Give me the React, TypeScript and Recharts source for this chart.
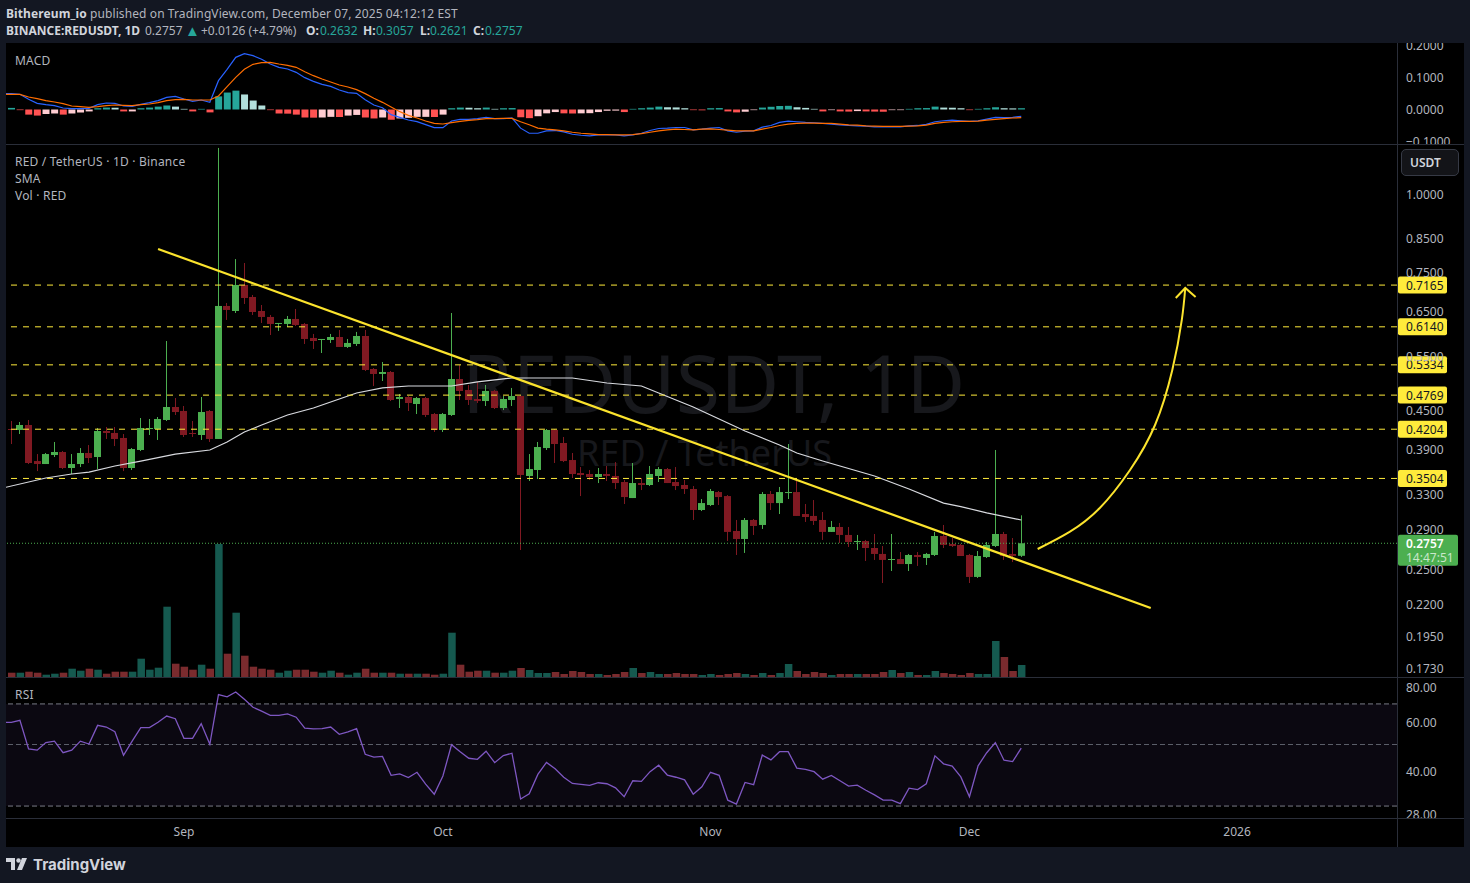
import { Bar, Cell, ComposedChart, Line, ReferenceArea, ReferenceLine, XAxis, YAxis } from "recharts"

const opens = [
  0.4207, 0.4192, 0.427, 0.3737, 0.3696, 0.3821, 0.3864, 0.3642, 0.3696, 0.385,
  0.3793, 0.4176, 0.4146, 0.407, 0.3642, 0.3893, 0.4207, 0.4207, 0.435, 0.4564,
  0.4497, 0.4146, 0.4115, 0.4497, 0.4055, 0.6632, 0.651, 0.7168, 0.6856, 0.651,
  0.6368, 0.6205, 0.6205, 0.6321, 0.6205, 0.5892, 0.5848, 0.5848, 0.5913, 0.5699,
  0.5762, 0.5935, 0.5253, 0.5157, 0.5195, 0.4701, 0.4736, 0.4615, 0.4718, 0.4447,
  0.4192, 0.4431, 0.5062, 0.4861, 0.4701, 0.4666, 0.4843, 0.4547, 0.4684, 0.4753,
  0.3536, 0.3615, 0.3921, 0.4192, 0.3995, 0.3751, 0.3575, 0.3562, 0.3523, 0.3562,
  0.3536, 0.3458, 0.3259, 0.3445, 0.342, 0.3536, 0.3628, 0.3458, 0.342, 0.337,
  0.3118, 0.3176, 0.3332, 0.3283, 0.2885, 0.2801, 0.3005, 0.295, 0.3308, 0.3199,
  0.332, 0.3332, 0.3072, 0.305, 0.3005, 0.2875, 0.2928, 0.2843, 0.277, 0.278,
  0.2709, 0.265, 0.2592, 0.2601, 0.2553, 0.264, 0.2611, 0.264, 0.2832, 0.275,
  0.274, 0.264, 0.2434, 0.262, 0.2729, 0.2853, 0.265, 0.2632,
]
const highs = [
  0.4334, 0.4318, 0.435, 0.3835, 0.385, 0.401, 0.3878, 0.3835, 0.3921, 0.3965,
  0.4223, 0.4239, 0.4239, 0.413, 0.3921, 0.4382, 0.4366, 0.4398, 0.5826, 0.4718,
  0.4581, 0.4334, 0.4736, 0.4513, 1.19, 0.6706, 0.7889, 0.7775, 0.6907, 0.6656,
  0.6415, 0.6228, 0.6391, 0.6559, 0.6228, 0.598, 0.587, 0.598, 0.6069, 0.587,
  0.6025, 0.6069, 0.5272, 0.5391, 0.5214, 0.4789, 0.4753, 0.4736, 0.4736, 0.4464,
  0.4464, 0.6462, 0.5331, 0.4951, 0.5007, 0.4951, 0.4861, 0.4753, 0.4897, 0.4771,
  0.3835, 0.401, 0.4207, 0.4207, 0.4085, 0.385, 0.3655, 0.3615, 0.3642, 0.3669,
  0.3723, 0.3484, 0.371, 0.351, 0.3669, 0.3655, 0.3642, 0.3655, 0.3484, 0.3407,
  0.3247, 0.337, 0.3345, 0.3295, 0.3005, 0.3027, 0.3016, 0.3332, 0.3345, 0.3395,
  0.398, 0.3484, 0.3188, 0.3235, 0.3095, 0.2994, 0.2972, 0.2928, 0.2843, 0.2791,
  0.2853, 0.2729, 0.2853, 0.2669, 0.265, 0.2669, 0.266, 0.2875, 0.295, 0.2811,
  0.275, 0.265, 0.2679, 0.277, 0.3893, 0.2875, 0.2811, 0.3057,
]
const lows = [
  0.398, 0.413, 0.3696, 0.3601, 0.3696, 0.3793, 0.3628, 0.3562, 0.3655, 0.371,
  0.3628, 0.4055, 0.395, 0.3601, 0.3615, 0.3878, 0.4115, 0.404, 0.4334, 0.4431,
  0.4085, 0.4085, 0.404, 0.401, 0.4055, 0.6298, 0.6462, 0.6681, 0.6415, 0.6228,
  0.5957, 0.6047, 0.6137, 0.6159, 0.5762, 0.5657, 0.5573, 0.5784, 0.5699, 0.5678,
  0.572, 0.5214, 0.4933, 0.5025, 0.4666, 0.4547, 0.4497, 0.4447, 0.4398, 0.4161,
  0.4161, 0.4415, 0.4684, 0.4598, 0.4632, 0.4581, 0.453, 0.4513, 0.4581, 0.2689,
  0.3471, 0.3497, 0.3893, 0.371, 0.3723, 0.351, 0.3283, 0.3484, 0.3445, 0.3471,
  0.337, 0.3188, 0.3259, 0.3357, 0.3407, 0.3458, 0.3445, 0.3357, 0.3308, 0.3005,
  0.3106, 0.3164, 0.3176, 0.278, 0.264, 0.266, 0.2843, 0.2907, 0.3118, 0.3072,
  0.3247, 0.305, 0.2983, 0.295, 0.2791, 0.2875, 0.276, 0.2719, 0.2689, 0.2582,
  0.2592, 0.238, 0.2488, 0.2553, 0.2488, 0.2535, 0.2544, 0.263, 0.2709, 0.2719,
  0.263, 0.238, 0.2425, 0.2611, 0.2719, 0.2592, 0.2572, 0.2621,
]
const closes = [
  0.4192, 0.427, 0.371, 0.3696, 0.3835, 0.3864, 0.3642, 0.3696, 0.385, 0.3779,
  0.4176, 0.4146, 0.4055, 0.3642, 0.3907, 0.4223, 0.4223, 0.4366, 0.4564, 0.448,
  0.4115, 0.413, 0.448, 0.4055, 0.6632, 0.6535, 0.7168, 0.6831, 0.6486, 0.6368,
  0.6205, 0.6228, 0.6321, 0.6182, 0.587, 0.5826, 0.587, 0.5913, 0.5699, 0.5784,
  0.5935, 0.5234, 0.5157, 0.5195, 0.4684, 0.4736, 0.4632, 0.4718, 0.4431, 0.4192,
  0.4447, 0.5062, 0.4843, 0.4684, 0.4666, 0.4843, 0.4547, 0.4701, 0.4753, 0.3549,
  0.3628, 0.3936, 0.4192, 0.398, 0.3737, 0.3562, 0.3549, 0.3523, 0.3562, 0.3536,
  0.3445, 0.3271, 0.3445, 0.342, 0.3562, 0.3628, 0.3445, 0.3407, 0.337, 0.3118,
  0.3199, 0.3345, 0.3271, 0.2875, 0.2801, 0.3005, 0.2939, 0.3308, 0.3199, 0.3332,
  0.3332, 0.305, 0.3038, 0.2994, 0.2875, 0.2928, 0.2843, 0.277, 0.278, 0.2709,
  0.265, 0.2592, 0.2601, 0.2553, 0.264, 0.262, 0.265, 0.2832, 0.274, 0.2729,
  0.263, 0.2434, 0.263, 0.274, 0.2853, 0.263, 0.2631, 0.2757,
]
const volumes = [
  4.3, 4.3, 5.3, 4.3, 2.3, 3.3, 4.3, 8.3, 6.3, 8.3, 7.3, 3.3, 5.3, 5.3, 5.3, 18.3, 7.3, 9.3, 70.3, 13.3,
  10.3, 7.3, 12.3, 8.3, 133, 23.3, 64.3, 21.3, 10.3, 8.3, 7.3, 4.3, 6.3, 7.3, 7.3, 5.3, 4.3, 6.3, 4.3, 2.3,
  4.3, 8.3, 4.3, 4.3, 4.3, 3.3, 3.3, 3.3, 3.3, 2.3, 3.3, 44.3, 12.3, 5.3, 6.3, 6.3, 4.3, 4.3, 6.3, 9,
  7, 4, 4, 5, 3, 6, 5, 3, 3, 2, 3, 5, 9, 4, 5, 3, 3, 4, 3, 3,
  2, 3, 2, 3, 4, 3, 2, 4, 2, 4, 13, 6, 3, 5, 4, 2, 3, 3, 3, 3,
  3, 5, 7, 4, 5, 2, 2, 6, 4, 3, 2, 4, 3, 3, 36, 20, 6, 12,
]
const rsiValues = [
  60.1, 61.1, 48.2, 47.7, 50.8, 51.4, 46.7, 47.7, 51.4, 50.2, 58.6, 57.8, 55.6, 45.7, 51.4, 57.5, 57.5, 60.1, 63.3, 61.9,
  52.6, 52.6, 59.4, 50.1, 75.6, 74.2, 77.3, 72.8, 68.1, 65.9, 63.7, 63.7, 64.4, 62.7, 57.3, 56.9, 57.0, 57.8, 54.4, 55.5,
  57.0, 46.1, 45.0, 45.3, 38.7, 39.2, 38.0, 39.7, 36.0, 33.1, 38.5, 49.9, 47.1, 44.6, 44.2, 47.3, 43.0, 45.6, 46.5, 31.8,
  33.2, 39.0, 43.1, 40.9, 38.1, 36.2, 35.9, 35.6, 36.4, 36.1, 34.9, 32.4, 37.0, 36.8, 39.9, 42.1, 38.8, 38.1, 37.3, 33.1,
  35.2, 39.7, 38.7, 31.5, 30.5, 36.5, 35.8, 45.8, 44.0, 47.1, 47.1, 41.1, 40.7, 39.9, 37.5, 38.7, 37.0, 35.4, 35.7, 34.2,
  32.9, 31.5, 31.5, 30.6, 34.8, 34.4, 36.1, 45.5, 42.6, 41.8, 38.2, 32.4, 41.9, 46.7, 50.8, 43.9, 43.4, 48.5,
]
const macdValues = [
  0.0495, 0.0474, 0.0318, 0.0193, 0.0151, 0.012, 0.0047, 0.0026, 0.0026, 0.0036,
  0.0151, 0.0203, 0.0193, 0.0109, 0.0099, 0.0161, 0.0214, 0.0276, 0.038, 0.0411,
  0.0328, 0.0255, 0.0297, 0.0224, 0.0901, 0.1255, 0.163, 0.1745, 0.1682, 0.1568,
  0.1422, 0.1318, 0.1266, 0.1161, 0.0995, 0.088, 0.0786, 0.0724, 0.0609, 0.0526,
  0.0505, 0.0307, 0.0141, 0.0057, -0.0161, -0.0245, -0.0328, -0.038, -0.0474, -0.0568,
  -0.0568, -0.0359, -0.0307, -0.0307, -0.0286, -0.0245, -0.0286, -0.0286, -0.0265, -0.0583,
  -0.0742, -0.0742, -0.0668, -0.0657, -0.0699, -0.0773, -0.0805, -0.0826, -0.0794, -0.0794,
  -0.0794, -0.0826, -0.0794, -0.0742, -0.0657, -0.0594, -0.0583, -0.0562, -0.0562, -0.0636,
  -0.0615, -0.0583, -0.0562, -0.0668, -0.071, -0.0678, -0.0668, -0.0551, -0.0499, -0.0404,
  -0.0361, -0.0382, -0.0404, -0.0414, -0.0435, -0.0456, -0.0478, -0.0499, -0.0509, -0.052,
  -0.0541, -0.0541, -0.0541, -0.0541, -0.0509, -0.0499, -0.0467, -0.0382, -0.0351, -0.033,
  -0.0351, -0.0372, -0.0351, -0.0298, -0.0245, -0.0256, -0.0245, -0.0213,
]
const signalValues = [
  0.0474, 0.0474, 0.0391, 0.0339, 0.0276, 0.0234, 0.0182, 0.0109, 0.0089, 0.0068,
  0.0089, 0.012, 0.0141, 0.013, 0.012, 0.0151, 0.0172, 0.0214, 0.0276, 0.0307,
  0.0318, 0.0297, 0.0297, 0.0297, 0.0422, 0.0714, 0.1005, 0.1255, 0.1411, 0.1464,
  0.1474, 0.1422, 0.138, 0.1318, 0.1182, 0.1057, 0.0953, 0.0859, 0.0766, 0.0703,
  0.062, 0.0495, 0.0349, 0.0224, 0.0078, -0.0068, -0.0182, -0.0266, -0.0359, -0.0432,
  -0.0453, -0.0411, -0.037, -0.0339, -0.0318, -0.0286, -0.0286, -0.0276, -0.0276, -0.0382,
  -0.0478, -0.0583, -0.0615, -0.0636, -0.0668, -0.071, -0.0742, -0.0763, -0.0784, -0.0784,
  -0.0794, -0.0794, -0.0784, -0.0752, -0.071, -0.0668, -0.0636, -0.0615, -0.0625, -0.0636,
  -0.0615, -0.0604, -0.0625, -0.0647, -0.0668, -0.0668, -0.0668, -0.0615, -0.0562, -0.0499,
  -0.0456, -0.0435, -0.0425, -0.0425, -0.0435, -0.0435, -0.0456, -0.0478, -0.0488, -0.0509,
  -0.052, -0.053, -0.053, -0.053, -0.052, -0.0509, -0.0488, -0.0435, -0.0404, -0.0382,
  -0.0372, -0.0372, -0.0361, -0.033, -0.0308, -0.0287, -0.0266, -0.0256,
]
const histValues = [
  0.005, -0.002, -0.016, -0.019, -0.014, -0.0125, -0.016, -0.0125, -0.0094, -0.006,
  0.004, 0.006, 0.0055, -0.006, -0.006, 0.004, 0.006, 0.009, 0.0125, 0.009,
  0.002, -0.006, 0.002, -0.009, 0.041, 0.053, 0.059, 0.047, 0.028, 0.0125,
  -0.002, -0.0125, -0.013, -0.016, -0.025, -0.0255, -0.025, -0.023, -0.0235, -0.019,
  -0.017, -0.025, -0.028, -0.025, -0.032, -0.028, -0.026, -0.023, -0.023, -0.0235,
  -0.016, 0.004, 0.006, 0.0055, 0.004, 0.006, 0.002, 0.004, 0.0045, -0.024,
  -0.027, -0.021, -0.012, -0.008, -0.012, -0.0125, -0.012, -0.0115, -0.008, -0.004,
  -0.0035, -0.008, 0.002, 0.004, 0.006, 0.009, 0.007, 0.0065, 0.004, -0.002,
  -0.0025, 0.004, 0.0045, -0.006, -0.009, -0.007, -0.002, 0.006, 0.0085, 0.011,
  0.0115, 0.007, 0.005, 0.002, -0.006, -0.002, -0.006, -0.0065, -0.005, -0.006,
  -0.0065, -0.007, -0.002, -0.002, 0.002, 0.004, 0.0045, 0.009, 0.006, 0.0055,
  0.004, -0.002, 0.002, 0.004, 0.007, 0.004, 0.0035, 0.004,
]

// 50-day SMA, read at the bends of the drawn line
const smaDays = [-1, 4, 7, 9, 12, 15, 19, 23, 25, 27, 29, 32, 35, 38, 40, 43, 46, 51, 54, 58, 65, 69, 73, 75, 79, 85, 89, 91, 94, 100, 104, 108, 110, 113, 117]
const smaPrices = [0.3382, 0.351, 0.3562, 0.3588, 0.3669, 0.3737, 0.3835, 0.3893, 0.401, 0.4161, 0.427, 0.4431, 0.4547, 0.4701, 0.4807, 0.4897, 0.4933, 0.4933, 0.5007, 0.5081, 0.5081, 0.4988, 0.4933, 0.4807, 0.4564, 0.4176, 0.3965, 0.385, 0.3737, 0.3536, 0.337, 0.3199, 0.3158, 0.3084, 0.3005]

const levels = [0.7165, 0.614, 0.5334, 0.4769, 0.4204, 0.3504]
const priceTicks = [1, 0.85, 0.75, 0.65, 0.55, 0.45, 0.39, 0.33, 0.29, 0.25, 0.22, 0.195, 0.173]
const macdTicks = [0.2, 0.1, 0, -0.1]
const rsiTicks = [80, 60, 40, 28]
const monthTicks = [20, 50, 81, 111, 142]
const monthLabels = ["Sep", "Oct", "Nov", "Dec", "2026"]
const lastPrice = 0.2757

// hand drawn bits on the chart
const trendDays = [17, 132]
const trendPrices = [0.8189, 0.217]
const arrowDays = [118.9, 122.6, 126.1, 129.6, 132.5, 134.5, 135.6, 136]
const arrowPrices = [0.2699, 0.2875, 0.3141, 0.3615, 0.427, 0.5234, 0.6298, 0.7089]
const headDays = [134.9, 136, 137.2]
const headPrices = [0.6831, 0.7089, 0.6856]

const xDomain: [number, number] = [-0.614, 160.53]
const GREEN = "#4caf50"
const RED = "#801922"
const TEXT = "#b2b5be"
const LINE = "#2a2e39"
const FONT = "'Noto Sans', sans-serif"

const days = opens.map((_, i) => i)
const rows: any[] = [
  { i: -1, macd: macdValues[0], signal: signalValues[0], rsi: rsiValues[0], sma: smaPrices[0] },
  ...days.map((i) => {
    const s = smaDays.indexOf(i)
    return {
      i,
      open: opens[i],
      high: highs[i],
      low: lows[i],
      close: closes[i],
      volume: volumes[i],
      rsi: rsiValues[i],
      macd: macdValues[i],
      signal: signalValues[i],
      hist: histValues[i],
      sma: s >= 0 ? smaPrices[s] : null,
    }
  }),
]
const arrowRows = arrowDays.map((i, k) => ({ i, y: arrowPrices[k] }))
const headRows = headDays.map((i, k) => ({ i, y: headPrices[k] }))

function histColor(i: number) {
  const v = histValues[i]
  const prev = i > 0 ? histValues[i - 1] : 0
  if (v >= 0) return v > prev ? "#26a69a" : "#b2dfdb"
  return v < prev ? "#ff5252" : "#ffcdd2"
}

function Candle(props: any) {
  const { x, y, width, height, payload } = props
  if (!payload || payload.high == null) return null
  const { open, high, low, close } = payload
  const span = Math.log(high / low)
  const yOf = (v: number) => y + (height * Math.log(high / v)) / span
  const top = yOf(Math.max(open, close))
  const bottom = yOf(Math.min(open, close))
  const cx = x + width / 2
  const fill = close >= open ? GREEN : RED
  return (
    <g fill={fill}>
      <rect x={Math.round(cx - 0.5)} y={y} width={1} height={height} />
      <rect x={Math.round(cx - 3.5)} y={top} width={7} height={Math.max(1, bottom - top)} />
    </g>
  )
}

function PriceTag(props: any) {
  const { viewBox, text } = props
  const right = viewBox.x + viewBox.width
  return (
    <g>
      <rect x={right + 1} y={viewBox.y - 8.5} width={49} height={17} rx={2} fill="#ffeb3b" />
      <text x={right + 9} y={viewBox.y + 4.5} fontSize={12} fontFamily={FONT} fill="#131722">
        {text}
      </text>
    </g>
  )
}

function LastTag(props: any) {
  const { viewBox } = props
  const right = viewBox.x + viewBox.width
  return (
    <g fontSize={12} fontFamily={FONT}>
      <rect x={right + 1} y={viewBox.y - 8.5} width={60} height={31} rx={2} fill={GREEN} />
      <text x={right + 9} y={viewBox.y + 4.5} fill="#ffffff" fontWeight={600}>
        {lastPrice.toFixed(4)}
      </text>
      <text x={right + 9} y={viewBox.y + 19} fill="#c9e7ca">
        14:47:51
      </text>
    </g>
  )
}

function Text({ x, y, children, ...style }: any) {
  return (
    <div style={{ position: "absolute", left: x, top: y, lineHeight: "16px", whiteSpace: "nowrap", ...style }}>
      {children}
    </div>
  )
}

const yAxisStyle = {
  orientation: "right" as const,
  width: 67,
  axisLine: false,
  tickLine: false,
  tickSize: 0,
  tickMargin: 9,
  interval: 0 as const,
  tick: { fill: TEXT, fontSize: 12, fontFamily: FONT, textAnchor: "start" },
}

const teal = "#26a69a"

export default function App() {
  return (
    <div style={{ position: "absolute", left: 0, top: 0, width: 1470, height: 883, background: "#131722", overflow: "hidden", fontFamily: FONT, fontSize: 12, color: "#d1d4dc" }}>
      <Text x={6} y={6} color="#b2b5be" letterSpacing={0.1}>
        <b style={{ fontWeight: 700, color: "#d1d4dc" }}>Bithereum_io</b> published on TradingView.com, December 07, 2025 04:12:12 EST
      </Text>
      <Text x={6} y={23} fontWeight={700}>BINANCE:REDUSDT, 1D</Text>
      <Text x={145} y={23} color={TEXT}>0.2757</Text>
      <Text x={185} y={22} color={teal} fontSize={15}>▲</Text>
      <Text x={201} y={23} color={TEXT}>+0.0126 (+4.79%)</Text>
      <Text x={306} y={23} fontWeight={700}>O:</Text>
      <Text x={320} y={23} color={teal}>0.2632</Text>
      <Text x={363} y={23} fontWeight={700}>H:</Text>
      <Text x={376} y={23} color={teal}>0.3057</Text>
      <Text x={420} y={23} fontWeight={700}>L:</Text>
      <Text x={430} y={23} color={teal}>0.2621</Text>
      <Text x={473} y={23} fontWeight={700}>C:</Text>
      <Text x={485} y={23} color={teal}>0.2757</Text>

      <div style={{ position: "absolute", left: 6, top: 43, width: 1458, height: 804, background: "#000000" }} />

      <div style={{ position: "absolute", left: 462, top: 327, fontSize: 81, lineHeight: "110px", color: "#17181c", whiteSpace: "nowrap" }}>REDUSDT, 1D</div>
      <div style={{ position: "absolute", left: 577, top: 430, fontSize: 36, lineHeight: "46px", color: "#17181c", whiteSpace: "nowrap" }}>RED / TetherUS</div>

      {/* MACD pane */}
      <div style={{ position: "absolute", left: 6, top: 43 }}>
        <ComposedChart width={1458} height={101} data={rows} margin={{ top: 0, right: 0, bottom: 0, left: 0 }}>
          <XAxis type="number" dataKey="i" domain={xDomain} allowDataOverflow hide />
          <YAxis {...yAxisStyle} domain={[-0.1078, 0.2078]} ticks={macdTicks} tickFormatter={(v: number) => v.toFixed(4).replace("-", "−")} />
          <Bar dataKey="hist" barSize={7} isAnimationActive={false}>
            {rows.map((r) => (
              <Cell key={r.i} fill={r.i >= 0 ? histColor(r.i) : "none"} />
            ))}
          </Bar>
          <Line dataKey="macd" stroke="#2962ff" strokeWidth={1.2} dot={false} isAnimationActive={false} />
          <Line dataKey="signal" stroke="#ff6d00" strokeWidth={1.2} dot={false} isAnimationActive={false} />
        </ComposedChart>
      </div>

      {/* volume sits under the candles */}
      <div style={{ position: "absolute", left: 6, top: 544 }}>
        <ComposedChart width={1391} height={133} data={rows} margin={{ top: 0, right: 0, bottom: 0, left: 0 }}>
          <XAxis type="number" dataKey="i" domain={xDomain} allowDataOverflow hide />
          <YAxis hide domain={[0, 133]} />
          <Bar dataKey="volume" barSize={7.5} isAnimationActive={false}>
            {rows.map((r) => (
              <Cell key={r.i} fill={r.close >= r.open ? "#15594f" : "#7a2b2e"} />
            ))}
          </Bar>
        </ComposedChart>
      </div>

      {/* price pane */}
      <div style={{ position: "absolute", left: 6, top: 145 }}>
        <ComposedChart width={1458} height={532} data={rows} margin={{ top: 0, right: 0, bottom: 0, left: 0 }}>
          <XAxis type="number" dataKey="i" domain={xDomain} allowDataOverflow hide />
          <YAxis {...yAxisStyle} scale="log" domain={[0.1681, 1.203]} allowDataOverflow ticks={priceTicks} tickFormatter={(v: number) => v.toFixed(4)} />
          <Line dataKey="sma" stroke="#d8dadf" strokeWidth={1.2} dot={false} connectNulls isAnimationActive={false} />
          <Bar dataKey={(d: any) => (d.high == null ? null : [d.low, d.high])} barSize={7} shape={<Candle />} isAnimationActive={false} />
          <ReferenceLine y={lastPrice} stroke={GREEN} strokeDasharray="1 2" label={<LastTag />} />
          {levels.map((v) => (
            <ReferenceLine key={v} y={v} stroke="#ffeb3b" strokeWidth={1} strokeDasharray="6 6" label={<PriceTag text={v.toFixed(4)} />} />
          ))}
          <ReferenceLine
            segment={[
              { x: trendDays[0], y: trendPrices[0] },
              { x: trendDays[1], y: trendPrices[1] },
            ]}
            stroke="#fbe32d"
            strokeWidth={2.2}
          />
          <Line data={arrowRows} dataKey="y" type="natural" stroke="#fbe32d" strokeWidth={2} dot={false} isAnimationActive={false} />
          <Line data={headRows} dataKey="y" stroke="#fbe32d" strokeWidth={2} dot={false} isAnimationActive={false} />
        </ComposedChart>
      </div>

      {/* RSI pane with the date axis under it */}
      <div style={{ position: "absolute", left: 6, top: 678 }}>
        <ComposedChart width={1458} height={169} data={rows} margin={{ top: 0, right: 0, bottom: 0, left: 0 }}>
          <XAxis
            type="number"
            dataKey="i"
            domain={xDomain}
            allowDataOverflow
            height={29}
            ticks={monthTicks}
            interval={0}
            tickLine={false}
            axisLine={false}
            tickSize={0}
            tickMargin={9}
            tick={{ fill: TEXT, fontSize: 12, fontFamily: FONT }}
            tickFormatter={(v: number) => monthLabels[monthTicks.indexOf(v)]}
          />
          <YAxis {...yAxisStyle} scale="log" domain={[27.17, 86.8]} allowDataOverflow ticks={rsiTicks} tickFormatter={(v: number) => v.toFixed(2)} />
          <ReferenceArea y1={30} y2={70} fill="#7e57c2" fillOpacity={0.09} stroke="none" />
          <ReferenceLine y={70} stroke="#787b86" strokeDasharray="5 3" />
          <ReferenceLine y={50} stroke="#5d606b" strokeDasharray="5 3" />
          <ReferenceLine y={30} stroke="#787b86" strokeDasharray="5 3" />
          <Line dataKey="rsi" stroke="#7e57c2" strokeWidth={1.3} dot={false} isAnimationActive={false} />
        </ComposedChart>
      </div>

      {/* pane borders, axis mask */}
      <div style={{ position: "absolute", left: 1398, top: 818, width: 66, height: 29, background: "#000000" }} />
      <div style={{ position: "absolute", left: 1397, top: 43, width: 1, height: 804, background: LINE }} />
      <div style={{ position: "absolute", left: 6, top: 144, width: 1458, height: 1, background: LINE }} />
      <div style={{ position: "absolute", left: 6, top: 677, width: 1458, height: 1, background: LINE }} />
      <div style={{ position: "absolute", left: 6, top: 818, width: 1458, height: 1, background: LINE }} />

      <Text x={15} y={53} color={TEXT} letterSpacing={0.2}>MACD</Text>
      <Text x={15} y={154} color={TEXT} letterSpacing={0.2}>RED / TetherUS · 1D · Binance</Text>
      <Text x={15} y={171} color={TEXT} letterSpacing={0.2}>SMA</Text>
      <Text x={15} y={188} color={TEXT} letterSpacing={0.2}>Vol · RED</Text>
      <Text x={15} y={687} color={TEXT} letterSpacing={0.2}>RSI</Text>

      <div style={{ position: "absolute", left: 1401, top: 149, width: 58, height: 27, boxSizing: "border-box", border: "1px solid #363a45", borderRadius: 5, background: "#131418", color: "#d1d4dc", fontWeight: 600, lineHeight: "26px", paddingLeft: 8 }}>USDT</div>

      <svg style={{ position: "absolute", left: 6, top: 858 }} width={22} height={14} fill="#d1d4dc">
        <path d="M0 0H9V12H5V4H0Z" />
        <circle cx={12.5} cy={2.5} r={2.2} />
        <path d="M16 0H21L16 12H11Z" />
      </svg>
      <Text x={33} y={857} fontSize={15} fontWeight={700} fontFamily="Inter, sans-serif">TradingView</Text>
    </div>
  )
}
